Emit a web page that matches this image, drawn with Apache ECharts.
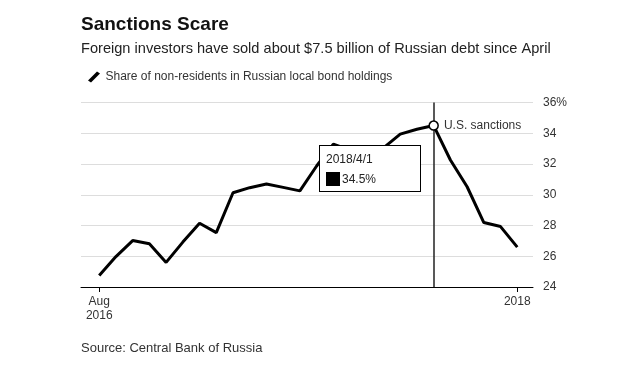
<!DOCTYPE html>
<html>
<head>
<meta charset="utf-8">
<script src="https://cdn.jsdelivr.net/npm/echarts@6/dist/echarts.min.js"></script>
<style>
  html, body { margin: 0; padding: 0; background: #fff; }
  #container { width: 638px; height: 375px; }
</style>
</head>
<body>
<div id="container"></div>
<script>
// data: monthly share (%) Aug 2016 - Sep 2018
var months = ['2016/8/1', '2016/9/1', '2016/10/1', '2016/11/1', '2016/12/1',
   '2017/1/1', '2017/2/1', '2017/3/1', '2017/4/1', '2017/5/1', '2017/6/1', '2017/7/1',
   '2017/8/1', '2017/9/1', '2017/10/1', '2017/11/1', '2017/12/1',
   '2018/1/1', '2018/2/1', '2018/3/1', '2018/4/1', '2018/5/1', '2018/6/1', '2018/7/1',
   '2018/8/1', '2018/9/1'];
var share = [24.75, 25.98, 27.02, 26.81, 25.6,
   26.92, 28.15, 27.54, 30.13, 30.46, 30.7, 30.48,
   30.25, 31.87, 33.29, 32.9, 32.75,
   33.05, 33.94, 34.26, 34.5, 32.26, 30.52, 28.19,
   27.93, 26.59];
var tickIdx = [0, 25];
var tickLabels = ['Aug\n2016', '2018'];
var sanctionIdx = 20;

var dom = document.getElementById('container');
var myChart = echarts.init(dom, null, { renderer: 'canvas' });

var sans = "'Liberation Sans', Arial, sans-serif";

var seriesData = share.map(function (v, i) { return [i, v]; });

var option = {
   animation: false,
   backgroundColor: '#fff',
   title: [
      {
         text: 'Sanctions Scare', left: 81, top: 15, padding: 0,
         textStyle: { fontFamily: sans, fontWeight: 'bold', fontSize: 19, color: '#111' }
      },
      {
         text: 'Foreign investors have sold about $7.5 billion of Russian debt since April',
         left: 81, top: 41, padding: 0,
         textStyle: { fontFamily: sans, fontWeight: 'normal', fontSize: 14.6, color: '#222' }
      },
      {
         text: 'Source: Central Bank of Russia', left: 81, top: 342, padding: 0,
         textStyle: { fontFamily: sans, fontWeight: 'normal', fontSize: 13, color: '#333' }
      }
   ],
   legend: {
      left: 88, top: 71, padding: 0,
      itemWidth: 13, itemHeight: 11,
      icon: 'path://M0,9 L9,0 L12,2 L3,11 Z',
      textStyle: { fontFamily: sans, fontSize: 12, color: '#333' },
      data: [{ name: 'Share of non-residents in Russian local bond holdings', itemStyle: { color: '#000' } }]
   },
   grid: { left: 81, right: 105, top: 102.5, bottom: 88 },
   tooltip: {
      trigger: 'axis',
      alwaysShowContent: true,
      position: [319, 145],
      transitionDuration: 0,
      backgroundColor: '#fff',
      borderColor: '#000',
      borderWidth: 1,
      padding: [5, 6],
      extraCssText: 'box-shadow:none;border-radius:0;width:102px;box-sizing:border-box;',
      axisPointer: {
         type: 'line',
         z: 1,
         lineStyle: { color: '#222', width: 1.5, type: 'solid' }
      },
      formatter: function (params) {
         var p = params[0];
         var idx = p.dataIndex;
         var font = '12px Liberation Sans, Arial, sans-serif';
         return '<div style="font:' + font + ';color:#222;line-height:16px">' +
            months[idx] + '</div>' +
            '<div style="margin-top:5px;display:flex;align-items:center;font:' + font + ';color:#222;line-height:14px">' +
            '<span style="display:inline-block;width:14px;height:14px;background:#000;margin-right:2px"></span>' +
            share[idx] + '%</div>';
      }
   },
   xAxis: {
      type: 'value',
      min: -1.09,
      max: 25.94,
      splitLine: { show: false },
      axisLine: { show: true, onZero: false, lineStyle: { color: '#000', width: 1 } },
      axisTick: { show: true, customValues: tickIdx, length: 5, lineStyle: { color: '#000' } },
      axisLabel: {
         customValues: tickIdx,
         margin: 8,
         lineHeight: 14,
         fontFamily: sans, fontSize: 12, color: '#333',
         formatter: function (v) {
            var k = tickIdx.indexOf(Math.round(v));
            return k >= 0 ? tickLabels[k] : '';
         }
      }
   },
   yAxis: {
      type: 'value',
      position: 'right',
      min: 24,
      max: 36,
      interval: 2,
      axisLine: { show: false },
      axisTick: { show: false },
      splitLine: { lineStyle: { color: '#ddd', width: 1 } },
      axisLabel: {
         margin: 10,
         fontFamily: sans, fontSize: 12, color: '#333',
         formatter: function (v) { return v === 36 ? v + '%' : v; }
      }
   },
   series: [
      {
         name: 'Share of non-residents in Russian local bond holdings',
         type: 'line',
         data: seriesData,
         symbol: 'none',
         showSymbol: false,
         lineStyle: { color: '#000', width: 3 },
         itemStyle: { color: '#000' },
         emphasis: { disabled: true },
         z: 3,
         markPoint: {
            symbol: 'circle',
            symbolSize: 9,
            silent: true,
            itemStyle: { color: '#fff', borderColor: '#000', borderWidth: 1.5 },
            label: {
               show: true, position: 'right', distance: 5,
               fontFamily: sans, fontSize: 12, color: '#333',
               formatter: 'U.S. sanctions'
            },
            data: [{ coord: [sanctionIdx, share[sanctionIdx]] }]
         }
      }
   ]
};

myChart.setOption(option);
myChart.dispatchAction({ type: 'showTip', seriesIndex: 0, dataIndex: sanctionIdx });

window.addEventListener('resize', myChart.resize);
</script>
</body>
</html>
